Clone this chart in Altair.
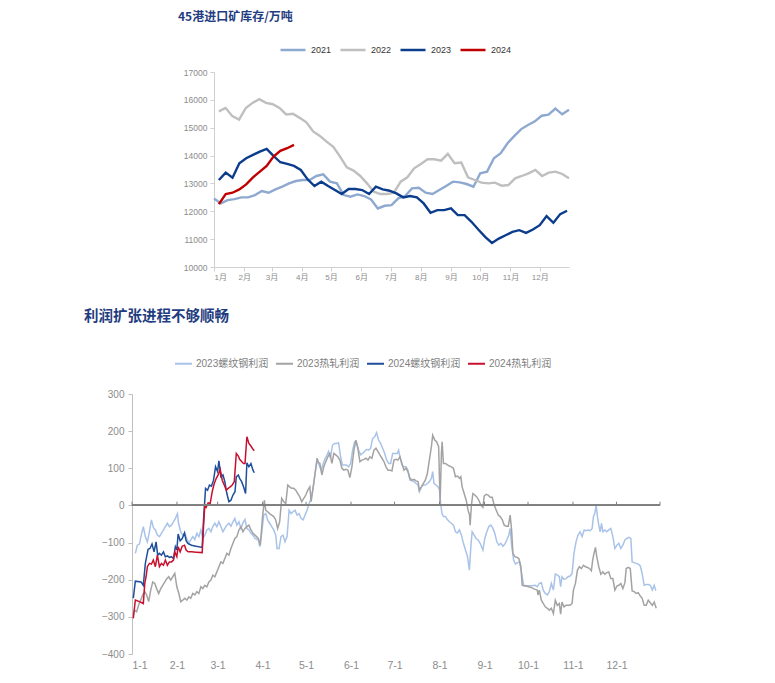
import altair as alt
import pandas as pd

# ---------------- Top panel: 45港进口矿库存/万吨 (weekly) ----------------
inv_names = ["2021", "2022", "2023", "2024"]
inv_colors = ["#8EA9D0", "#BFBFBF", "#0C3C8C", "#C00000"]
inv_first = ["2023-01-01", "2023-01-06", "2023-01-06", "2023-01-06"]
inv_last = ["2023-12-31", "2023-12-31", "2023-12-29", "2023-03-24"]

inv_2021 = [12462, 12282, 12402, 12438, 12499, 12499, 12583, 12727, 12667, 12787,
            12883, 13003, 13087, 13123, 13123, 13267, 13327, 13063, 13003, 12583,
            12523, 12607, 12547, 12426, 12102, 12198, 12222, 12462, 12547, 12823,
            12847, 12667, 12619, 12763, 12907, 13063, 13039, 12979, 12883, 13363,
            13423, 13904, 14084, 14444, 14707, 14951, 15100, 15230, 15430, 15470,
            15683, 15480, 15647]
inv_2022 = [15586, 15708, 15415, 15293, 15708, 15891, 16025, 15891, 15842, 15708,
            15476, 15500, 15354, 15195, 14866, 14707, 14500, 14317, 13964, 13580,
            13459, 13267, 13003, 12703, 12619, 12619, 12667, 13063, 13219, 13544,
            13700, 13868, 13868, 13820, 14060, 13724, 13748, 13219, 13123, 13027,
            13003, 13027, 12919, 12943, 13183, 13267, 13363, 13484, 13267, 13387,
            13423, 13339, 13183]
inv_2023 = [13123, 13387, 13207, 13724, 13904, 14024, 14144, 14240, 13988, 13760,
            13700, 13628, 13484, 13147, 12907, 13063, 12907, 12763, 12619, 12799,
            12799, 12763, 12619, 12883, 12787, 12739, 12643, 12499, 12547, 12499,
            12282, 11946, 12042, 12042, 12102, 11862, 11862, 11622, 11345, 11081,
            10865, 11021, 11141, 11261, 11321, 11225, 11345, 11501, 11826, 11586,
            11898, 12018]
inv_2024 = [12258, 12619, 12667, 12787, 12967, 13219, 13423, 13628, 13964, 14168,
            14264, 14384]
inv_ticks = [10000, 11000, 12000, 13000, 14000, 15000, 16000, 17000]

# ---------------- Bottom panel: 利润扩张进程不够顺畅 (daily, day-of-year, 元/吨) ----------------
profit_names = ["2023螺纹钢利润", "2023热轧利润", "2024螺纹钢利润", "2024热轧利润"]
profit_colors = ["#A9C3E8", "#A3A3A3", "#1F4E9A", "#C8102E"]
profit_ticks = [-400, -300, -200, -100, 0, 100, 200, 300]

rebar_2023 = [
    (2.3, -129), (3.7, -107), (5.1, -104), (6.4, -80), (7.8, -57), (9.2, -84), (10.6, -98),
    (12.0, -71), (13.4, -39), (14.7, -59), (16.1, -66), (17.5, -80), (18.9, -84), (20.3, -75),
    (21.7, -66), (23.0, -57), (24.4, -48), (25.8, -57), (27.2, -53), (28.6, -44), (29.9, -35),
    (31.3, -22), (32.1, -48), (33.6, -71), (35.0, -80), (36.4, -75), (37.8, -89), (39.2, -102),
    (40.5, -93), (41.9, -84), (43.3, -92), (44.7, -75), (46.1, -84), (47.5, -66), (48.8, -89),
    (50.2, -80), (51.6, -66), (53.0, -62), (54.4, -71), (55.7, -57), (57.1, -48), (58.5, -57),
    (59.9, -44), (61.3, -57), (62.7, -71), (64.0, -62), (65.4, -53), (66.8, -48), (68.2, -56),
    (69.6, -44), (70.9, -35), (72.3, -53), (73.7, -44), (75.1, -62), (76.5, -47), (77.9, -38),
    (79.2, -62), (80.6, -66), (82.0, -75), (83.4, -80), (84.8, -89),
    (87.1, -93), (88.0, -111), (89.4, -75), (90.8, -26), (92.2, -22), (93.5, -39), (94.9, -48),
    (96.3, -57), (97.7, -66), (99.1, -80), (100.0, -116), (101.4, -116), (102.7, -84),
    (104.1, -80), (105.5, -98), (106.9, -84), (108.3, -13), (109.7, -22), (111.0, -17),
    (112.4, -13), (113.8, -26), (115.2, -22), (116.6, -35), (118.0, -39), (119.3, -26),
    (120.7, -13), (122.1, 5), (123.5, 19), (124.9, 46), (126.2, 86), (127.6, 122), (129.0, 109),
    (130.4, 95), (131.8, 113), (133.2, 127), (134.5, 136), (135.5, 145), (136.8, 127),
    (138.2, 162), (139.6, 167), (141.0, 167), (142.4, 169), (143.8, 131), (145.1, 109),
    (146.5, 109), (147.9, 109), (149.3, 104), (150.7, 113), (152.1, 149), (153.4, 171),
    (154.8, 167), (156.2, 149), (157.6, 136), (158.9, 140), (160.3, 145), (161.7, 151),
    (163.1, 149), (164.5, 154), (165.9, 180), (167.3, 185), (168.6, 196), (170.0, 176),
    (171.4, 167), (172.8, 154), (174.2, 140), (175.6, 122), (177.0, 113), (178.3, 113),
    (179.7, 140), (181.1, 140),
    (182.9, 140), (183.8, 149), (184.7, 131), (186.1, 109), (187.5, 104), (188.9, 104),
    (190.2, 95), (191.6, 68), (193.0, 66), (194.4, 64), (195.8, 59), (197.2, 55), (198.1, 37),
    (199.5, 50), (200.8, 55), (202.2, 55), (203.6, 59), (205.0, 64), (206.4, 73), (207.3, 91),
    (208.2, 59), (209.6, 55), (211.0, 50), (211.9, 43), (212.8, 5), (213.7, -22), (214.7, -30),
    (216.1, -30), (217.4, -38), (218.8, -44), (220.2, -48), (221.6, -53), (223.0, -71),
    (224.3, -74), (225.7, -66), (227.1, -80), (228.5, -102), (229.9, -120), (231.3, -138),
    (232.6, -174), (233.6, -111), (234.5, -71), (235.9, -80), (237.2, -89), (238.6, -93),
    (240.0, -102), (241.9, -120), (243.2, -89), (244.6, -71), (246.0, -57), (247.4, -53),
    (248.8, -62), (250.1, -75), (251.5, -98), (252.9, -107), (254.3, -102), (255.7, -110),
    (257.1, -104), (258.4, -93), (259.8, -80), (260.7, -62), (261.7, -107), (263.1, -147),
    (264.4, -158), (265.8, -154), (267.2, -152), (268.6, -183), (270.0, -215),
    (271.1, -217), (273.4, -216), (275.7, -216), (278.0, -215), (279.4, -219), (280.8, -210),
    (282.2, -208), (283.5, -228), (284.9, -237), (286.3, -241), (287.7, -232), (289.1, -210),
    (290.5, -228), (291.8, -185), (293.2, -187), (294.6, -192), (295.5, -219), (296.4, -192),
    (297.8, -199), (299.2, -197), (300.6, -192), (302.0, -190), (303.4, -183), (304.7, -129),
    (306.1, -98), (307.5, -80), (308.9, -71), (310.3, -84), (311.7, -66), (313.0, -68),
    (314.4, -66), (315.8, -68), (317.2, -62), (318.1, -31), (319.0, -22), (320.0, 1),
    (320.9, -31), (321.8, -53), (322.7, -71), (323.7, -48), (324.6, -71), (326.0, -66),
    (327.3, -71), (328.7, -66), (330.1, -62), (331.5, -84), (332.9, -116), (334.3, -107),
    (335.6, -102), (337.0, -116), (338.4, -107), (339.8, -93), (341.2, -89), (342.5, -86),
    (343.9, -89), (344.8, -152), (346.2, -154), (347.6, -156), (349.0, -158), (350.4, -163),
    (351.7, -183), (353.1, -215), (354.5, -213), (355.9, -213), (357.3, -215), (358.7, -228),
    (360.0, -215), (361.0, -228), (361.4, -228),
]

hot_2023 = [
    (0.5, -295), (1.8, -282), (3.2, -286), (4.6, -268), (6.0, -255), (7.4, -241), (8.8, -232),
    (10.1, -241), (11.5, -259), (12.9, -228), (14.3, -206), (15.7, -210), (17.0, -224),
    (18.4, -237), (19.8, -224), (21.2, -215), (22.6, -206), (24.0, -197), (25.3, -192),
    (26.7, -201), (28.1, -192), (29.5, -183), (30.9, -219), (32.3, -237), (33.6, -259),
    (35.0, -255), (36.4, -250), (37.8, -255), (39.2, -246), (40.5, -250), (41.9, -237),
    (43.3, -241), (44.7, -232), (46.1, -237), (47.5, -219), (48.8, -224), (50.2, -215),
    (51.6, -219), (53.0, -206), (54.4, -201), (55.7, -188), (57.1, -192), (58.5, -179),
    (59.9, -165), (61.3, -152), (62.7, -156), (64.0, -143), (65.4, -129), (66.8, -134),
    (68.2, -116), (69.6, -102), (70.9, -89), (72.3, -84), (73.7, -66), (75.1, -57), (76.5, -71),
    (77.9, -62), (79.2, -57), (80.6, -53), (82.0, -66), (83.4, -75), (84.8, -80),
    (87.1, -89), (88.5, -107), (89.8, -39), (91.2, 14), (92.2, -13), (93.5, -17), (94.9, -22),
    (96.3, -26), (97.7, -30), (99.1, -39), (100.4, -62), (101.8, -44), (103.2, 19), (104.6, 10),
    (106.0, 5), (107.4, 55), (108.7, 50), (110.1, 46), (111.5, 46), (112.9, 41), (114.3, 32),
    (115.7, 23), (117.0, 10), (118.4, 19), (119.8, 28), (121.2, 41), (122.6, 50), (123.5, 10),
    (124.9, 50), (126.2, 86), (127.6, 127), (128.5, 116), (129.5, 113), (130.9, 82),
    (132.2, 104), (133.6, 118), (135.0, 131), (136.4, 140), (137.8, 113), (139.2, 140),
    (140.5, 136), (141.9, 131), (143.3, 122), (144.7, 100), (146.1, 95), (147.4, 97),
    (148.8, 95), (150.2, 75), (151.6, 104), (153.0, 149), (154.4, 176), (155.7, 154),
    (157.1, 118), (158.5, 122), (159.9, 124), (161.3, 127), (162.7, 122), (164.0, 131),
    (165.4, 127), (166.8, 149), (168.2, 154), (169.6, 145), (170.9, 136), (172.3, 127),
    (173.7, 118), (175.1, 104), (176.5, 95), (177.9, 95), (179.2, 93), (180.6, 122),
    (182.0, 124), (183.3, 122), (184.7, 131), (186.1, 113), (187.5, 95), (188.9, 100),
    (190.2, 91), (191.6, 73), (193.0, 68), (194.4, 70), (195.8, 66), (197.2, 64), (198.1, 41),
    (199.5, 50), (200.8, 59), (202.2, 68), (203.6, 86), (205.0, 122), (206.4, 158), (207.3, 189),
    (208.7, 176), (210.1, 171), (211.4, 158), (212.4, 5), (213.3, 140), (213.8, 171),
    (214.7, 113), (216.1, 113), (217.5, 109), (218.8, 106), (220.2, 104), (221.6, 100),
    (223.0, 77), (224.4, 79), (225.8, 73), (226.7, 77), (227.6, 50), (229.0, 32), (230.4, 14),
    (231.7, -13), (232.7, -26), (233.1, -53), (234.0, 1), (235.0, 32), (236.3, 28), (237.7, 23),
    (239.1, 14), (240.5, 1), (241.9, -5), (242.8, 25), (244.2, 30), (245.5, 28), (246.9, 22),
    (248.3, 22), (249.7, 1), (251.1, -13), (252.5, -26), (253.8, -30), (255.2, -38),
    (256.6, -53), (258.0, -56), (259.4, -56), (260.7, -26), (261.7, -66), (262.6, -129),
    (264.0, -138), (265.4, -140), (266.7, -143), (268.1, -165), (269.0, -215), (270.4, -217),
    (271.1, -216), (273.4, -219), (275.7, -222), (278.0, -226), (279.4, -228), (279.9, -241),
    (280.8, -228), (282.2, -255), (283.5, -264), (284.9, -273), (286.3, -277), (287.7, -282),
    (289.1, -277), (290.5, -291), (291.8, -255), (293.2, -269), (294.6, -264), (295.5, -293),
    (296.4, -260), (297.8, -273), (299.2, -269), (300.6, -269), (302.0, -269), (303.4, -264),
    (304.3, -228), (305.7, -210), (307.1, -174), (308.4, -165), (309.8, -170), (311.2, -161),
    (312.6, -165), (314.0, -167), (315.4, -170), (316.7, -176), (317.6, -147), (318.5, -129),
    (319.5, -113), (320.4, -138), (321.8, -165), (323.2, -185), (324.6, -179), (326.0, -185),
    (327.3, -181), (328.7, -179), (330.1, -197), (331.5, -197), (332.9, -228), (334.3, -217),
    (335.6, -215), (337.0, -210), (338.4, -224), (339.8, -208), (340.7, -170), (342.1, -167),
    (343.5, -170), (344.8, -230), (346.2, -232), (347.6, -237), (349.0, -235), (350.4, -244),
    (351.7, -250), (353.1, -269), (354.5, -269), (355.9, -255), (357.3, -262), (358.7, -269),
    (360.0, -260), (361.4, -277),
]

rebar_2024 = [
    (0.9, -250), (2.3, -204), (6.2, -206), (7.8, -215), (9.2, -156), (10.1, -138), (11.1, -118),
    (12.4, -116), (13.8, -104), (15.2, -125), (16.6, -98), (17.7, -134), (18.9, -129),
    (20.3, -134), (21.7, -125), (23.0, -138), (24.4, -136), (25.8, -140), (27.2, -138),
    (28.6, -143), (29.9, -111), (30.9, -120), (31.8, -77), (33.2, -95), (34.6, -89), (36.2, -74),
    (37.3, -95), (38.5, -102), (41.0, -107), (44.2, -110), (48.4, -113), (49.3, -39), (50.7, 46),
    (52.1, 41), (53.4, 55), (54.8, 52), (56.2, 68), (57.6, 104), (59.0, 91), (59.9, 120),
    (61.3, 77), (62.7, 82), (64.0, 64), (65.4, 32), (66.8, 10), (68.2, 14), (69.6, 28),
    (71.0, 37), (71.9, 77), (73.3, 82), (74.2, 73), (75.6, 64), (76.9, 50), (78.3, 32),
    (79.2, 115), (80.6, 104), (82.0, 113), (83.4, 95), (84.3, 88),
]

hot_2024 = [
    (0.9, -304), (2.3, -255), (5.1, -259), (7.8, -264), (8.8, -210), (9.7, -192), (10.6, -165),
    (12.0, -156), (13.4, -158), (14.7, -147), (16.1, -165), (17.5, -134), (18.9, -165),
    (20.3, -156), (21.7, -161), (23.0, -147), (24.4, -161), (25.8, -152), (27.2, -152),
    (28.6, -147), (29.5, -125), (30.9, -138), (31.8, -111), (33.2, -125), (34.6, -110),
    (36.2, -107), (37.3, -120), (38.7, -125), (41.0, -125), (44.2, -126), (48.4, -127),
    (49.3, -57), (50.2, 1), (51.1, -5), (52.5, 7), (53.9, 5), (55.3, 37), (56.7, 59), (58.1, 73),
    (59.4, 82), (60.8, 97), (62.2, 68), (63.6, 55), (65.0, 41), (66.3, 46), (67.7, 50),
    (69.1, 55), (70.5, 64), (71.9, 140), (73.3, 133), (74.2, 124), (75.6, 118), (76.9, 113),
    (77.9, 113), (79.2, 185), (80.6, 167), (82.0, 160), (83.4, 151), (84.3, 147),
]

month_marks = ["2023-01-01", "2023-02-01", "2023-03-01", "2023-04-01", "2023-05-01",
               "2023-06-01", "2023-07-01", "2023-08-01", "2023-09-01", "2023-10-01",
               "2023-11-01", "2023-12-01", "2023-12-31"]

# ---------------- build tables ----------------
base = pd.Timestamp("2023-01-01")
frames = []
for name, vals, first, last in zip(inv_names, [inv_2021, inv_2022, inv_2023, inv_2024],
                                   inv_first, inv_last):
    frames.append(pd.DataFrame({
        "date": pd.date_range(first, last, periods=len(vals)),
        "value": vals, "series": name}))
top_df = pd.concat(frames, ignore_index=True)

frames = []
for name, pairs in zip(profit_names, [rebar_2023, hot_2023, rebar_2024, hot_2024]):
    d = pd.DataFrame(pairs, columns=["day", "value"])
    d["date"] = base + pd.to_timedelta(d["day"], unit="D")
    d["series"] = name
    frames.append(d[["date", "value", "series"]])
bot_df = pd.concat(frames, ignore_index=True)
marks_df = pd.DataFrame({"date": pd.to_datetime(month_marks)})

FONT = "Liberation Sans, Noto Sans CJK SC, sans-serif"
CJK = "Noto Sans CJK SC"
TITLE_COLOR = "#1F3D80"
x_dom = [alt.DateTime(year=2023, month=1, date=1), alt.DateTime(year=2023, month=12, date=31)]

# ---------------- top chart ----------------
top = alt.Chart(top_df).mark_line(strokeWidth=2.4).encode(
    x=alt.X("date:T", scale=alt.Scale(domain=x_dom),
            axis=alt.Axis(format="%-m月", tickCount="month", title=None, grid=False,
                          domainColor="#D0D0D0", tickColor="#D0D0D0", tickSize=4,
                          labelColor="#8C8C8C", labelFontSize=8, labelFont=FONT,
                          labelPadding=2)),
    y=alt.Y("value:Q", scale=alt.Scale(domain=[10000, 17000], nice=False),
            axis=alt.Axis(values=inv_ticks, title=None, grid=False, format="d",
                          domainColor="#D0D0D0", tickColor="#D0D0D0", tickSize=4,
                          labelColor="#8C8C8C", labelFontSize=8.5, labelFont=FONT,
                          labelPadding=3)),
    color=alt.Color("series:N", scale=alt.Scale(domain=inv_names, range=inv_colors),
                    legend=alt.Legend(orient="none", direction="horizontal", title=None,
                                      legendX=147, legendY=-36, symbolType="stroke",
                                      symbolSize=625, symbolStrokeWidth=2.5,
                                      labelFontSize=9, labelColor="#333333", labelFont=FONT,
                                      labelOffset=4, columnPadding=3, padding=0)),
).properties(
    width=355, height=195,
    title=alt.TitleParams("45港进口矿库存/万吨", anchor="start", frame="group", dx=-36,
                          offset=44, font=CJK, fontSize=12, fontWeight="bold",
                          color=TITLE_COLOR),
)

spacer = alt.Chart(pd.DataFrame({"a": [0]})).mark_point(opacity=0).encode(
    x=alt.X("a:Q", axis=None), y=alt.Y("a:Q", axis=None)
).properties(width=82, height=195)

top_row = alt.hconcat(spacer, top, spacing=0, bounds="flush")

# ---------------- bottom chart ----------------
bx_scale = alt.Scale(domain=x_dom)
bx_axis = alt.Axis(format="%-m-%-d", tickCount="month", title=None, grid=False,
                   domain=False, ticks=False, labelColor="#8C8C8C", labelFontSize=10.5,
                   labelFont=FONT, labelPadding=6)
by_scale = alt.Scale(domain=[-400, 300], nice=False)
by_axis = alt.Axis(values=profit_ticks, title=None, grid=False,
                   domainColor="#BFBFBF", tickColor="#BFBFBF", tickSize=4,
                   labelColor="#8C8C8C", labelFontSize=10, labelFont=FONT,
                   labelPadding=4, labelOverlap=False)

lines = alt.Chart(bot_df).mark_line(strokeWidth=1.5).encode(
    x=alt.X("date:T", scale=bx_scale, axis=bx_axis),
    y=alt.Y("value:Q", scale=by_scale, axis=by_axis),
    color=alt.Color("series:N", scale=alt.Scale(domain=profit_names, range=profit_colors),
                    legend=alt.Legend(orient="none", direction="horizontal", title=None,
                                      legendX=42, legendY=-40, symbolType="stroke",
                                      symbolSize=289, symbolStrokeWidth=2,
                                      labelFontSize=10, labelColor="#7F7F7F", labelFont=FONT,
                                      labelOffset=3, columnPadding=3, padding=0)),
)
zero = alt.Chart(marks_df).mark_rule(color="#7F7F7F", strokeWidth=1.2).encode(
    y=alt.YDatum(0, scale=by_scale, axis=by_axis))
ticks = alt.Chart(marks_df).mark_rule(color="#7F7F7F", strokeWidth=1).encode(
    x=alt.X("date:T", scale=bx_scale, axis=bx_axis),
    y=alt.YDatum(0, scale=by_scale, axis=by_axis), y2=alt.Y2Datum(10))

bottom = alt.layer(lines, zero, ticks).properties(
    width=528, height=260,
    title=alt.TitleParams("利润扩张进程不够顺畅", anchor="start", frame="group", dx=-48,
                          offset=30, font=CJK, fontSize=14.5, fontWeight="bold",
                          color=TITLE_COLOR),
)

chart = alt.vconcat(top_row, bottom, spacing=322, bounds="flush").resolve_scale(
    color="independent", x="independent", y="independent"
).properties(
    padding={"left": 75, "top": 2, "right": 5, "bottom": 5},
    background="white",
).configure_view(stroke="transparent").configure_legend(columnPadding=3)

chart.save("out.html", embed_options={"renderer": "svg", "actions": False})
